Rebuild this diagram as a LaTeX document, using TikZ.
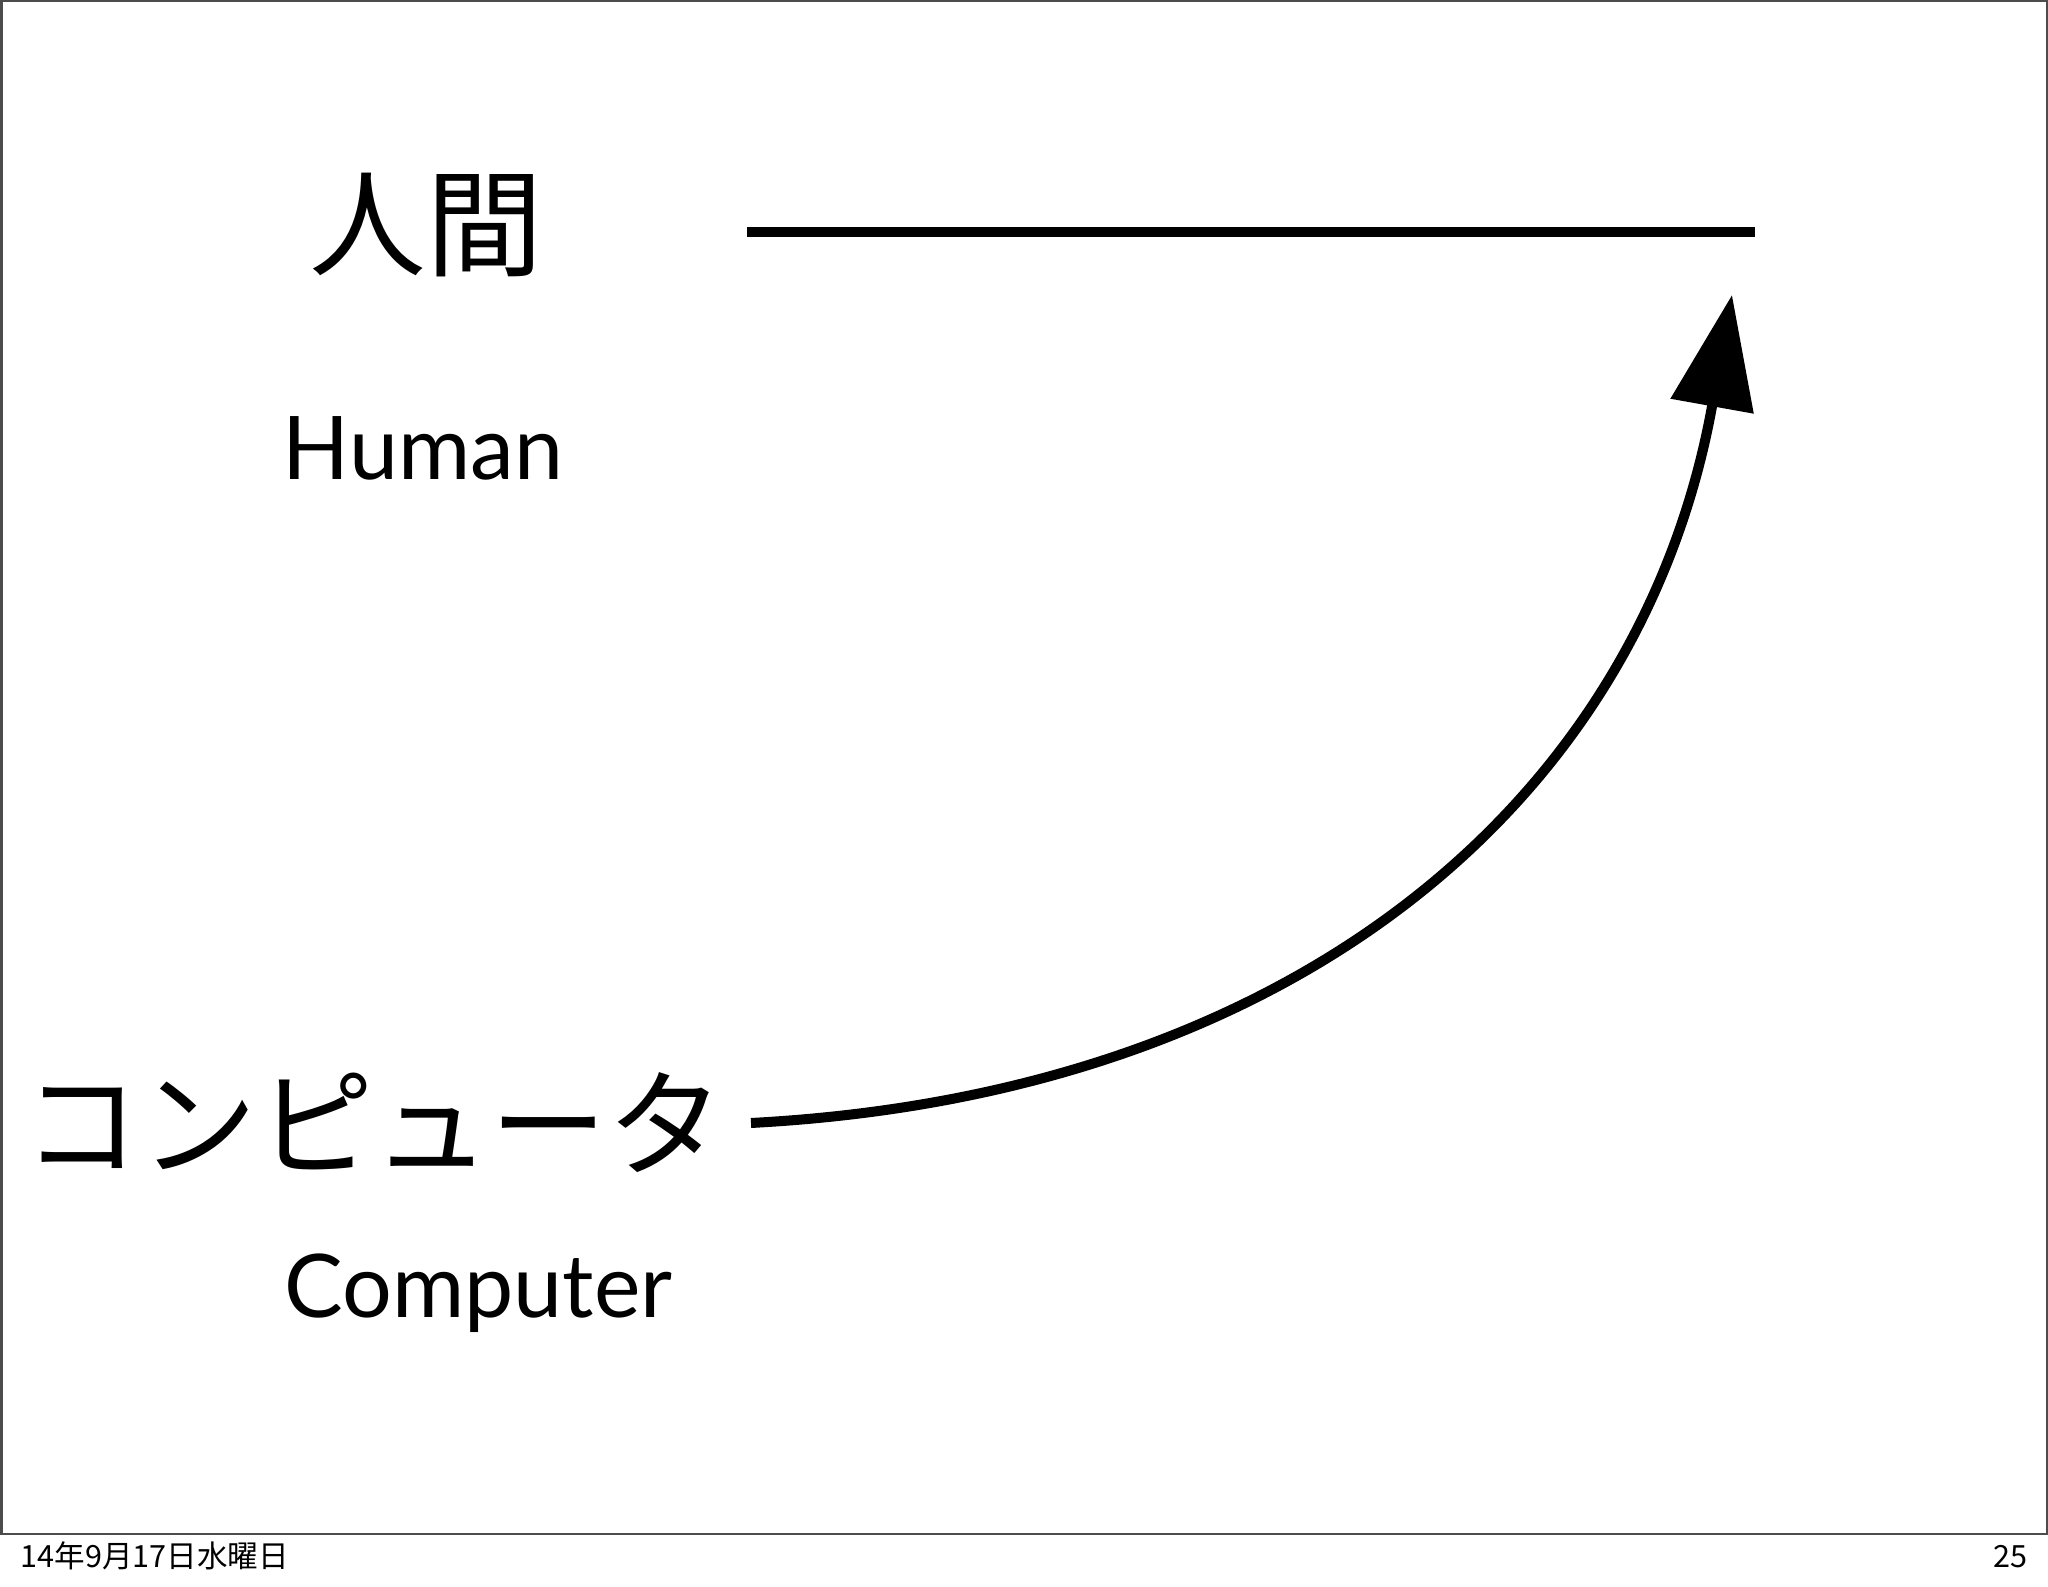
\documentclass[tikz,border=0pt]{standalone}
\usepackage{fontspec}
\setmainfont{Liberation Sans}
\newfontfamily\jpfont{Noto Sans CJK JP}
\newfontfamily\enfont{Lato}
\usetikzlibrary{arrows.meta}
\usetikzlibrary{positioning}

\begin{document}
\begin{tikzpicture}
\tikzset{
   >={Triangle[length=1.13cm, width=0.82cm]},
   frame/.style = {draw = black!70, line width = 0.02cm},
   label_ja/.style = {inner sep = 0, font = \jpfont\fontsize{33.2}{40}\selectfont},
   label_en/.style = {inner sep = 0, anchor = base west, font = \enfont\fontsize{25}{30}\selectfont},
   footer/.style = {inner sep = 0, font = \jpfont\fontsize{8.7}{10}\selectfont},
   level/.style = {line width = 0.1cm}
 }
  \useasboundingbox (0,0) rectangle (20.48,15.87);
  \draw[frame] (0.015,0.53) rectangle (20.465,15.855);

  \node[label_ja] (human_ja) at (4.265,13.62) {人間};
  \node[label_en] (human_en) at (2.82,11.07) {Human};

  \node[label_ja] (comp_ja) at (3.74,4.64) {コンピュータ};
  \node[label_en] (comp_en) at (2.84,2.69) {Computer};

  \coordinate (human_start) at (7.47,13.55);
  \coordinate (human_end) at (17.55,13.55);
  \draw[level] (human_start) -- (human_end);

  \coordinate (comp_start) at (7.51,4.64);
  \coordinate (arrow_tip) at (17.32,12.92);
  \draw[level, ->] (comp_start) .. controls +(5.49,0.29) and +(-0.90,-5.02) .. (arrow_tip);

  \node[footer, anchor = base west] (date) at (0.20,0.19) {14年9月17日水曜日};
  \node[footer, anchor = base east] (page) at (20.28,0.19) {25};
\end{tikzpicture}
\end{document}
